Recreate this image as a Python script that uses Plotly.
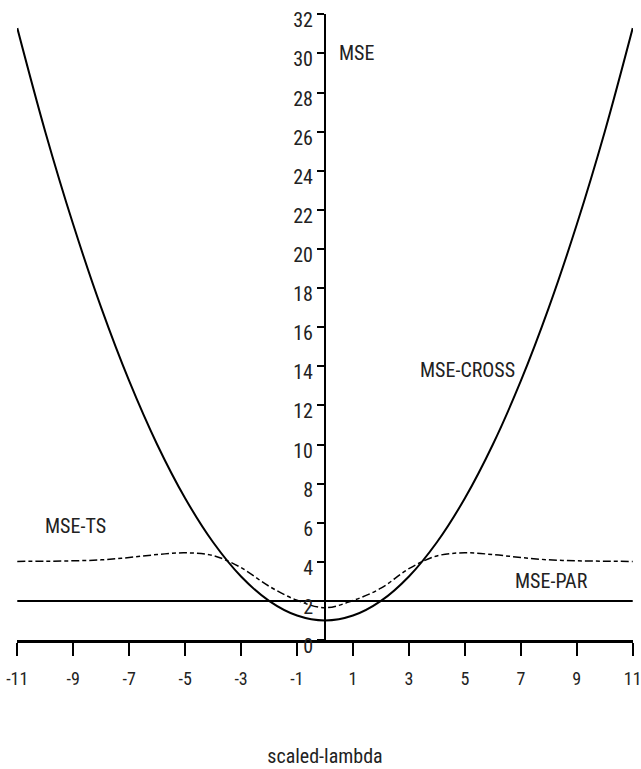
import plotly.graph_objects as go

# scaled lambda grid
lam = [-11, -10, -9, -8, -7, -6, -5, -4, -3, -2, -1, 0,
       1, 2, 3, 4, 5, 6, 7, 8, 9, 10, 11]

# MSE of the cross-section estimator
mse_cross = [31.3, 26.0, 21.25, 17.0, 13.25, 10.0, 7.25, 5.0, 3.25, 2.0, 1.25, 1.0,
             1.25, 2.0, 3.25, 5.0, 7.25, 10.0, 13.25, 17.0, 21.25, 26.0, 31.3]

# MSE of the pre-test (TS) estimator
mse_ts = [4.02, 4.03, 4.05, 4.1, 4.22, 4.37, 4.46, 4.32, 3.7, 2.75, 2.03, 1.65,
          2.02, 2.65, 3.65, 4.3, 4.46, 4.37, 4.22, 4.1, 4.05, 4.03, 4.02]

# MSE of the parametric estimator (constant)
mse_par = [2.0] * len(lam)

x_ticks = [-11, -9, -7, -5, -3, -1, 1, 3, 5, 7, 9, 11]
y_ticks = list(range(0, 33, 2))

FONT = "Liberation Sans Narrow, Arial Narrow, Roboto Condensed, sans-serif"
INK = "#222222"

fig = go.Figure()

fig.add_trace(go.Scatter(
    x=lam, y=mse_cross, mode="lines",
    line=dict(color="black", width=2, shape="spline", smoothing=1.0),
    hoverinfo="skip", showlegend=False,
))
fig.add_trace(go.Scatter(
    x=lam, y=mse_par, mode="lines",
    line=dict(color="black", width=2),
    hoverinfo="skip", showlegend=False,
))
fig.add_trace(go.Scatter(
    x=lam, y=mse_ts, mode="lines",
    line=dict(color="black", width=1.5, shape="spline", smoothing=1.0,
              dash="8px,3px,4px,3px"),
    hoverinfo="skip", showlegend=False,
))

labels = [
    ("MSE", 0.42, 30.0),
    ("MSE-CROSS", 3.32, 13.8),
    ("MSE-TS", -10.07, 5.85),
    ("MSE-PAR", 6.71, 3.0),
]
for text, lx, ly in labels:
    fig.add_annotation(x=lx, y=ly, text=text, showarrow=False,
                       xanchor="left", yanchor="middle",
                       font=dict(family=FONT, size=20, color=INK))

fig.update_layout(
    width=641, height=769,
    margin=dict(l=17, r=8, t=14, b=129, autoexpand=False),
    paper_bgcolor="white", plot_bgcolor="white",
    font=dict(family=FONT, size=20, color=INK),
    xaxis=dict(
        range=[-11.01, 11.01], tickvals=x_ticks, ticktext=[str(v) for v in x_ticks],
        showgrid=False, zeroline=False, automargin=False,
        showline=True, linecolor="black", linewidth=3,
        ticks="outside", ticklen=13, tickwidth=2, tickcolor="black",
        ticklabelstandoff=7, ticklabeloverflow="allow",
        tickfont=dict(family=FONT, size=18, color=INK),
        title=dict(text="scaled-lambda", standoff=62,
                   font=dict(family=FONT, size=20, color=INK)),
    ),
    yaxis=dict(
        range=[0, 32.02], tickvals=y_ticks, ticktext=[str(v) for v in y_ticks],
        anchor="free", position=0.5, automargin=False,
        showgrid=False, zeroline=False,
        showline=True, linecolor="black", linewidth=2,
        ticks="outside", ticklen=7, tickwidth=2, tickcolor="black",
        ticklabelstandoff=0, ticklabelshift=6, ticklabeloverflow="allow",
    ),
)

fig.write_html("out.html")
